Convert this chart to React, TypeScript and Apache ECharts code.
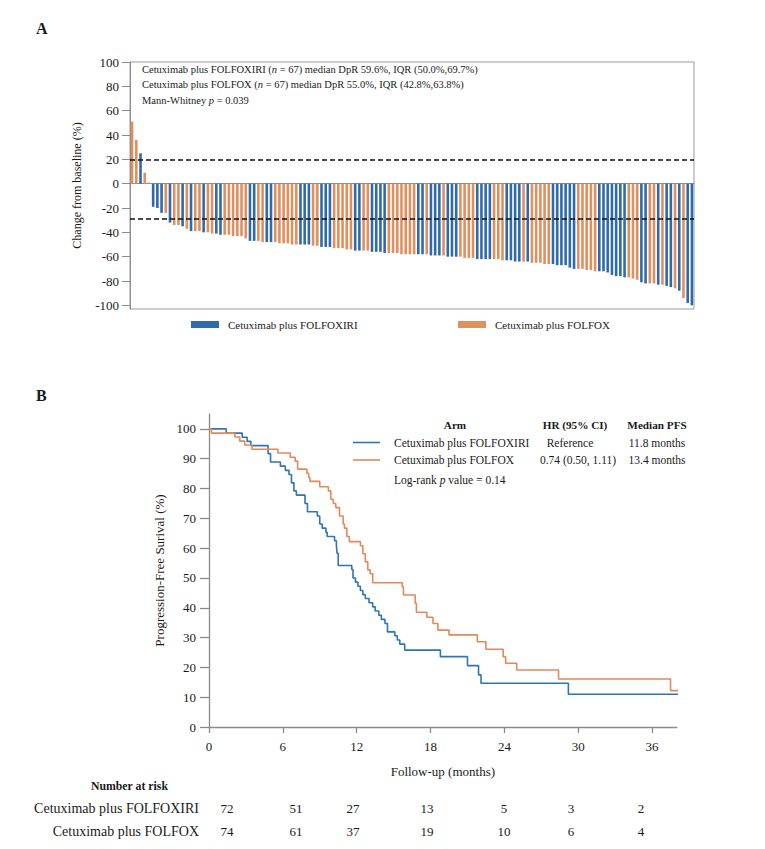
import React, { useEffect, useRef } from "react";
import * as echarts from "echarts";

const FONT = "'Liberation Serif', 'Times New Roman', serif";
const ARM_I = "Cetuximab plus FOLFOXIRI";
const ARM_O = "Cetuximab plus FOLFOX";
const BLUE = "#2f6aad";
const ORANGE = "#e08f5f";
const KM_BLUE = "#2e75b6";
const KM_ORANGE = "#e08a5a";

// Panel A: waterfall of depth of response (%), sorted
const dprValues = [
  51, 36, 25, 9, 1, -19, -20, -24, -24, -32, -34, -34, -35, -37, -39, -39, -39, -40, -40, -41,
  -41, -42, -42, -42, -43, -43, -43, -45, -47, -47, -47, -48, -48, -48, -48, -49, -49, -49, -50, -50,
  -50, -50, -50, -51, -51, -52, -52, -52, -53, -53, -53, -54, -54, -55, -55, -55, -55, -56, -56, -56,
  -57, -57, -57, -57, -58, -58, -58, -58, -58, -58, -58, -59, -59, -59, -59, -60, -60, -60, -60, -61,
  -61, -61, -62, -62, -62, -62, -62, -62, -63, -63, -63, -64, -64, -64, -64, -65, -65, -65, -66, -66,
  -66, -67, -67, -67, -69, -70, -70, -70, -71, -71, -72, -72, -72, -73, -75, -76, -76, -77, -77, -78,
  -79, -81, -82, -82, -82, -83, -83, -84, -85, -86, -88, -94, -98, -100,
];
// I = FOLFOXIRI, O = FOLFOX
const dprArms = [
  "O", "O", "I", "O", "O", "I", "I", "I", "O", "I", "O", "O", "I", "O", "I", "O", "O", "I", "O", "O",
  "I", "I", "O", "O", "O", "O", "O", "O", "I", "I", "O", "O", "I", "I", "O", "O", "O", "O", "O", "O",
  "I", "I", "I", "O", "O", "I", "I", "I", "O", "O", "O", "O", "O", "I", "I", "O", "O", "I", "I", "I",
  "I", "O", "O", "O", "O", "O", "O", "O", "I", "I", "O", "I", "I", "I", "O", "I", "I", "I", "O", "O",
  "O", "O", "I", "I", "I", "I", "O", "O", "O", "I", "I", "I", "I", "O", "I", "O", "O", "O", "O", "O",
  "I", "I", "I", "I", "I", "I", "O", "O", "O", "O", "O", "I", "I", "I", "I", "I", "I", "I", "O", "O",
  "O", "I", "I", "O", "O", "I", "O", "I", "I", "O", "I", "O", "I", "I",
];
const dprTicks = [-100, -80, -60, -40, -20, 0, 20, 40, 60, 80, 100];
const dprThresholds = [20, -29];

// Panel B: Kaplan-Meier PFS
const kmTicksX = [0, 6, 12, 18, 24, 30, 36];
const kmTicksY = [0, 10, 20, 30, 40, 50, 60, 70, 80, 90, 100];
const folfoxiriTimes = [
  0, 1.4, 2.7, 3.1, 3.4, 4.8, 5.0, 5.8, 6.2, 6.5, 6.7, 6.9, 7.1, 7.8, 8.0, 8.8, 9.0, 9.2, 9.5, 9.6,
  10.2, 10.35, 10.4, 10.5, 11.6, 11.7, 11.9, 12.1, 12.3, 12.5, 12.7, 13.0, 13.3, 13.5, 13.8, 14.0,
  14.3, 14.5, 15.1, 15.3, 15.5, 15.9, 18.8, 21.0, 21.9, 22.1, 29.2, 38.1,
];
const folfoxiriSurv = [
  100, 98.6, 97.2, 95.8, 94.4, 91.7, 88.9, 87.5, 86.1, 84.7, 81.9, 79.2, 77.8, 75.0, 72.2, 70.8,
  68.1, 66.7, 65.3, 63.9, 62.5, 61.1, 58.3, 54.2, 52.8, 50.0, 48.6, 47.2, 45.8, 44.4, 43.1, 41.7,
  40.3, 38.9, 37.5, 36.1, 34.7, 31.9, 30.6, 29.2, 27.8, 25.8, 23.6, 20.6, 17.5, 14.7, 11.0, 11.0,
];
const folfoxTimes = [
  0, 0.2, 2.1, 2.5, 2.9, 3.5, 5.6, 6.6, 7.0, 7.2, 7.95, 8.1, 8.2, 9.0, 9.7, 9.9, 10.1, 10.3, 10.6,
  10.9, 11.0, 11.2, 11.4, 12.3, 12.5, 12.7, 12.9, 13.1, 13.3, 15.7, 15.8, 16.75, 16.85, 17.7, 18.2,
  18.6, 19.5, 21.8, 22.5, 23.9, 24.1, 25.0, 28.4, 37.5, 38.1,
];
const folfoxSurv = [
  100, 98.6, 97.3, 95.9, 94.6, 93.2, 91.9, 90.5, 89.2, 86.5, 85.1, 83.8, 82.4, 80.6, 79.2, 76.4,
  75.0, 73.6, 70.8, 68.1, 66.7, 63.9, 62.2, 60.8, 58.1, 55.4, 52.7, 51.4, 48.4, 47.0, 44.3, 41.5,
  38.5, 36.8, 34.7, 32.5, 30.9, 28.6, 26.1, 23.6, 21.4, 19.1, 16.1, 12.2, 12.2,
];
const riskFolfoxiri = [72, 51, 27, 13, 5, 3, 2];
const riskFolfox = [74, 61, 37, 19, 10, 6, 4];
const riskColumnX = [227, 296, 353, 427, 504, 571, 641];

const txt = (x: number, y: number, text: string, extra: any = {}) => ({
  type: "text",
  x,
  y,
  silent: true,
  style: {
    text,
    fontFamily: FONT,
    fontSize: 11.5,
    fill: "#1a1a1a",
    verticalAlign: "middle",
    align: "left",
    ...extra,
  },
});

export default function App() {
  const ref = useRef<HTMLDivElement>(null);

  useEffect(() => {
    if (!ref.current) return;
    const chart = echarts.init(ref.current, undefined, { renderer: "svg" });
    const axisGray = "#8a8a8a";
    const italicA = { i: { fontStyle: "italic", fontFamily: FONT, fontSize: 10.5, fill: "#1a1a1a" } };
    const italicB = { i: { fontStyle: "italic", fontFamily: FONT, fontSize: 11.5, fill: "#1a1a1a" } };

    const graphics: any[] = [
      txt(36, 28, "A", { fontWeight: "bold", fontSize: 16 }),
      txt(36, 395, "B", { fontWeight: "bold", fontSize: 16 }),
      txt(142, 69, "Cetuximab plus FOLFOXIRI ({i|n} = 67) median DpR 59.6%, IQR (50.0%,69.7%)", { fontSize: 10.5, rich: italicA }),
      txt(142, 84.5, "Cetuximab plus FOLFOX ({i|n} = 67) median DpR 55.0%, IQR (42.8%,63.8%)", { fontSize: 10.5, rich: italicA }),
      txt(142, 100, "Mann-Whitney {i|p} = 0.039", { fontSize: 10.5, rich: italicA }),
      // Panel B legend table
      txt(455, 425, "Arm", { fontWeight: "bold", align: "center", fontSize: 11.2 }),
      txt(575, 425, "HR (95% CI)", { fontWeight: "bold", align: "center", fontSize: 11.2 }),
      txt(657, 425, "Median PFS", { fontWeight: "bold", align: "center", fontSize: 11.2 }),
      { type: "line", silent: true, shape: { x1: 353, y1: 442.5, x2: 380, y2: 442.5 }, style: { stroke: KM_BLUE, lineWidth: 1.6 } },
      { type: "line", silent: true, shape: { x1: 353, y1: 460, x2: 380, y2: 460 }, style: { stroke: KM_ORANGE, lineWidth: 1.6 } },
      txt(394, 442.5, ARM_I),
      txt(394, 460, ARM_O),
      txt(570, 442.5, "Reference", { align: "center" }),
      txt(578, 460, "0.74 (0.50, 1.11)", { align: "center" }),
      txt(657, 442.5, "11.8 months", { align: "center" }),
      txt(657, 460, "13.4 months", { align: "center" }),
      txt(394, 480, "Log-rank {i|p} value = 0.14", { rich: italicB }),
      // Number at risk table
      txt(168, 786, "Number at risk", { fontWeight: "bold", align: "right", fontSize: 11.8 }),
      txt(199, 808, ARM_I, { align: "right", fontSize: 14 }),
      txt(199, 831, ARM_O, { align: "right", fontSize: 14 }),
    ];
    riskFolfoxiri.forEach((v, i) => graphics.push(txt(riskColumnX[i], 808, String(v), { align: "center", fontSize: 13 })));
    riskFolfox.forEach((v, i) => graphics.push(txt(riskColumnX[i], 831, String(v), { align: "center", fontSize: 13 })));

    const legendBase = {
      icon: "rect",
      itemWidth: 28,
      itemHeight: 7,
      selectedMode: false,
      textStyle: { fontFamily: FONT, fontSize: 11, color: "#1a1a1a", padding: [0, 0, 0, 4] },
    };

    chart.setOption({
      animation: false,
      backgroundColor: "#ffffff",
      textStyle: { fontFamily: FONT },
      grid: [
        { left: 130, top: 62, right: 71, bottom: 540, show: true, borderColor: "#9a9a9a", borderWidth: 1, backgroundColor: "transparent" },
        { left: 209, top: 414, right: 88.3, bottom: 122 },
      ],
      legend: [
        { ...legendBase, data: [ARM_I], left: 186, top: 314 },
        { ...legendBase, data: [ARM_O], left: 453, top: 314 },
      ],
      xAxis: [
        {
          gridIndex: 0,
          type: "category",
          data: dprValues.map((_, i) => String(i + 1)),
          axisLine: { show: true, onZero: true, lineStyle: { color: "#8c8c8c", width: 1 } },
          axisTick: { show: false },
          axisLabel: { show: false },
          splitLine: { show: false },
        },
        {
          gridIndex: 1,
          type: "value",
          min: 0,
          max: 38,
          name: "Follow-up (months)",
          nameLocation: "middle",
          nameGap: 38,
          nameTextStyle: { fontFamily: FONT, fontSize: 13, color: "#1a1a1a" },
          axisLine: { show: true, lineStyle: { color: axisGray, width: 1.3 } },
          axisTick: { show: true, length: 6, customValues: kmTicksX, lineStyle: { color: axisGray, width: 1.3 } },
          axisLabel: { customValues: kmTicksX, fontFamily: FONT, fontSize: 13, color: "#1a1a1a", margin: 13 },
          splitLine: { show: false },
        },
      ],
      yAxis: [
        {
          gridIndex: 0,
          type: "value",
          min: -103,
          max: 100,
          name: "Change from baseline (%)",
          nameLocation: "middle",
          nameGap: 47,
          nameTextStyle: { fontFamily: FONT, fontSize: 12, color: "#1a1a1a" },
          axisLine: { show: true, lineStyle: { color: "#8c8c8c", width: 1 } },
          axisTick: { show: true, length: 8, customValues: dprTicks, lineStyle: { color: "#8c8c8c" } },
          axisLabel: { customValues: dprTicks, fontFamily: FONT, fontSize: 13, color: "#1a1a1a", margin: 11 },
          splitLine: { show: false },
        },
        {
          gridIndex: 1,
          type: "value",
          min: 0,
          max: 105,
          name: "Progression-Free Surival (%)",
          nameLocation: "middle",
          nameGap: 41,
          nameTextStyle: { fontFamily: FONT, fontSize: 13, color: "#1a1a1a" },
          axisLine: { show: true, lineStyle: { color: axisGray, width: 1.3 } },
          axisTick: { show: true, length: 9, customValues: kmTicksY, lineStyle: { color: axisGray, width: 1.3 } },
          axisLabel: { customValues: kmTicksY, fontFamily: FONT, fontSize: 13, color: "#1a1a1a", margin: 13 },
          splitLine: { show: false },
        },
      ],
      series: [
        {
          type: "bar",
          name: ARM_I,
          xAxisIndex: 0,
          yAxisIndex: 0,
          barWidth: 2.6,
          barGap: "-100%",
          itemStyle: { color: BLUE },
          data: dprValues.map((v, i) => (dprArms[i] === "I" ? v : "-")),
          markLine: {
            silent: true,
            symbol: ["none", "none"],
            label: { show: false },
            lineStyle: { color: "#111", type: [5, 3], width: 1.6 },
            data: dprThresholds.map((t) => ({ yAxis: t })),
          },
        },
        {
          type: "bar",
          name: ARM_O,
          xAxisIndex: 0,
          yAxisIndex: 0,
          barWidth: 2.6,
          barGap: "-100%",
          itemStyle: { color: ORANGE },
          data: dprValues.map((v, i) => (dprArms[i] === "O" ? v : "-")),
        },
        {
          type: "line",
          name: ARM_I,
          xAxisIndex: 1,
          yAxisIndex: 1,
          step: "end",
          showSymbol: false,
          lineStyle: { color: KM_BLUE, width: 1.6 },
          itemStyle: { color: KM_BLUE },
          data: folfoxiriTimes.map((t, i) => [t, folfoxiriSurv[i]]),
        },
        {
          type: "line",
          name: ARM_O,
          xAxisIndex: 1,
          yAxisIndex: 1,
          step: "end",
          showSymbol: false,
          lineStyle: { color: KM_ORANGE, width: 1.6 },
          itemStyle: { color: KM_ORANGE },
          data: folfoxTimes.map((t, i) => [t, folfoxSurv[i]]),
        },
      ],
      graphic: graphics,
    });
    return () => chart.dispose();
  }, []);

  return (
    <div
      ref={ref}
      style={{ position: "fixed", left: 0, top: 0, width: 765, height: 849, background: "#fff" }}
    />
  );
}
